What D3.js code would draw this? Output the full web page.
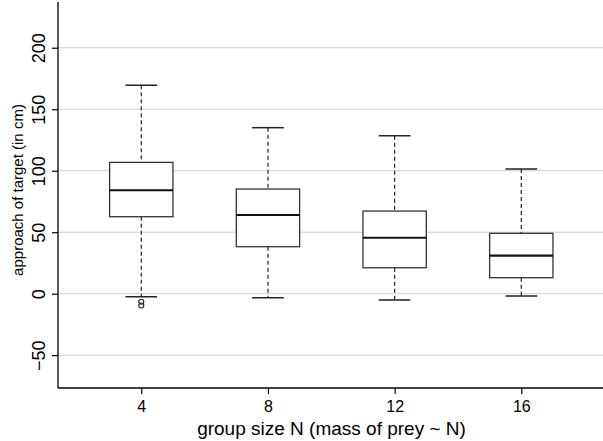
<!DOCTYPE html>
<html><head><meta charset="utf-8">
<script src="https://cdn.jsdelivr.net/npm/d3@7"></script>
<style>body{margin:0;background:#fff}svg{display:block}text{font-family:"Liberation Sans",Arial,sans-serif}</style>
</head><body>
<script>
const groups = [4, 8, 12, 16];
const whiskerLow = [-2.4, -3.3, -5.1, -1.9];
const q1 = [62.6, 38.2, 21.1, 13.0];
const medians = [84.1, 64.0, 45.5, 30.9];
const q3 = [106.8, 85.1, 67.2, 49.1];
const whiskerHigh = [169.4, 135.0, 128.4, 101.4];
const outliers = [{g: 4, v: -6.5}, {g: 4, v: -9.6}];
const yTicks = [-50, 0, 50, 100, 150, 200];
const xLabel = "group size N (mass of prey ~ N)";
const yLabel = "approach of target (in cm)";

const W = 603, H = 441;
const svg = d3.select("body").append("svg").attr("width", W).attr("height", H);
const x = d3.scaleLinear().domain([1.37, 18.58]).range([58, 603]);
const y = d3.scaleLinear().domain([-76.7, 237.2]).range([388, 2]);

// gridlines
svg.append("g").selectAll("line").data(yTicks).join("line")
  .attr("x1", 58).attr("x2", W).attr("y1", d => y(d)).attr("y2", d => y(d))
  .attr("stroke", "#cfcfcf").attr("stroke-width", 1);

const data = groups.map((g, i) => ({g, lo: whiskerLow[i], q1: q1[i], med: medians[i], q3: q3[i], hi: whiskerHigh[i]}));
const bw = x(2) - x(0), cw = x(1) - x(0);
const b = svg.append("g").selectAll("g").data(data).join("g");
b.append("line").attr("x1", d => x(d.g)).attr("x2", d => x(d.g)).attr("y1", d => y(d.hi)).attr("y2", d => y(d.q3))
  .attr("stroke", "#222").attr("stroke-width", 1.2).attr("stroke-dasharray", "4,3");
b.append("line").attr("x1", d => x(d.g)).attr("x2", d => x(d.g)).attr("y1", d => y(d.q1)).attr("y2", d => y(d.lo))
  .attr("stroke", "#222").attr("stroke-width", 1.2).attr("stroke-dasharray", "4,3");
b.append("line").attr("x1", d => x(d.g) - cw / 2).attr("x2", d => x(d.g) + cw / 2).attr("y1", d => y(d.hi)).attr("y2", d => y(d.hi))
  .attr("stroke", "#222").attr("stroke-width", 1.5);
b.append("line").attr("x1", d => x(d.g) - cw / 2).attr("x2", d => x(d.g) + cw / 2).attr("y1", d => y(d.lo)).attr("y2", d => y(d.lo))
  .attr("stroke", "#222").attr("stroke-width", 1.5);
b.append("rect").attr("x", d => x(d.g) - bw / 2).attr("width", bw).attr("y", d => y(d.q3)).attr("height", d => y(d.q1) - y(d.q3))
  .attr("fill", "#fff").attr("stroke", "#333").attr("stroke-width", 1.3);
b.append("line").attr("x1", d => x(d.g) - bw / 2).attr("x2", d => x(d.g) + bw / 2).attr("y1", d => y(d.med)).attr("y2", d => y(d.med))
  .attr("stroke", "#111").attr("stroke-width", 2.2);
svg.append("g").selectAll("circle").data(outliers).join("circle")
  .attr("cx", d => x(d.g)).attr("cy", d => y(d.v)).attr("r", 2.5)
  .attr("fill", "none").attr("stroke", "#222").attr("stroke-width", 1.1);

// axes
const yAxis = svg.append("g").attr("transform", "translate(58,0)")
  .call(d3.axisLeft(y).tickValues(yTicks).tickSize(6).tickFormat(d => d < 0 ? "\u2212" + Math.abs(d) : d));
yAxis.select(".domain").attr("d", `M0,${y(237.2)}V${y(-76.7)}`).attr("stroke", "#000").attr("stroke-width", 1.3);
yAxis.selectAll(".tick line").attr("stroke", "#000").attr("stroke-width", 1.2);
yAxis.selectAll(".tick text").attr("font-size", 18).attr("fill", "#000")
  .attr("x", 0).attr("y", 0).attr("dy", 0).attr("text-anchor", "middle")
  .attr("transform", "translate(-13,0) rotate(-90)");

const xAxis = svg.append("g").attr("transform", "translate(0,388)")
  .call(d3.axisBottom(x).tickValues(groups).tickSize(6));
xAxis.select(".domain").attr("d", `M58,0H${W}`).attr("stroke", "#000").attr("stroke-width", 1.3);
xAxis.selectAll(".tick line").attr("stroke", "#000").attr("stroke-width", 1.2);
xAxis.selectAll(".tick text").attr("font-size", 16).attr("fill", "#000")
  .attr("x", 0).attr("y", 24).attr("dy", 0);

svg.append("text").attr("x", 331.5).attr("y", 435)
  .attr("text-anchor", "middle").attr("font-size", 19).text(xLabel);
svg.append("text").attr("transform", "translate(23,190) rotate(-90)")
  .attr("text-anchor", "middle").attr("font-size", 15).text(yLabel);
</script>
</body></html>
